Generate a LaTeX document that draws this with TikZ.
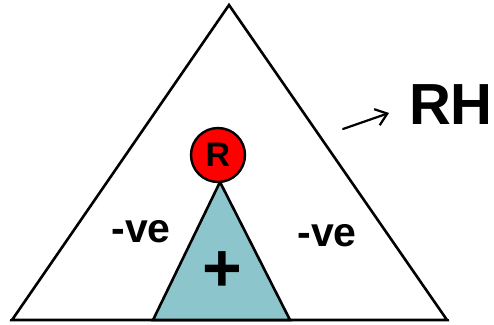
\documentclass[tikz,border=0pt]{standalone}
\usepackage{fontspec}
\setmainfont{Liberation Sans}
\usetikzlibrary{arrows.meta}
\definecolor{tealfill}{RGB}{140,198,204}
\tikzset{
  edge/.style={line width=2.6pt, line join=miter},
  lbl/.style={font=\bfseries\fontsize{41}{41}\selectfont, inner sep=0pt},
}
\begin{document}
\begin{tikzpicture}[x=1pt,y=-1pt]
\useasboundingbox (0,0) rectangle (494,324);
% outer triangle
\coordinate (A) at (229,5);
\coordinate (B) at (12,320);
\coordinate (C) at (447,320);
\draw[edge] (A) -- (B) -- (C) -- cycle;
% inner triangle
\coordinate (ia) at (220,182);
\coordinate (ib) at (153,320);
\coordinate (ic) at (290,320);
\filldraw[edge, fill=tealfill] (ia) -- (ib) -- (ic) -- cycle;
\draw[line width=2.6pt] (10,320) -- (449,320);
% root
\node[circle, draw, line width=2.4pt, fill=red, minimum size=54pt, inner sep=0pt,
      font=\bfseries\fontsize{34}{34}\selectfont] (R) at (218,155) {R};
% labels
\node[lbl] (lneg) at (141,232) {-ve};
\node[lbl] (rneg) at (327,236) {-ve};
\node[inner sep=0pt, font=\bfseries\fontsize{68}{68}\selectfont] (plus) at (222,272) {+};
\node[inner sep=0pt, font=\bfseries\fontsize{58}{58}\selectfont, anchor=east] (RH) at (493,105) {RH};
\coordinate (a0) at (343,129);
\coordinate (a1) at (389,113);
\draw[line width=2.2pt, line cap=round, -{Straight Barb[length=11pt,width=17pt]}] (a0) -- (a1);
\end{tikzpicture}
\end{document}
